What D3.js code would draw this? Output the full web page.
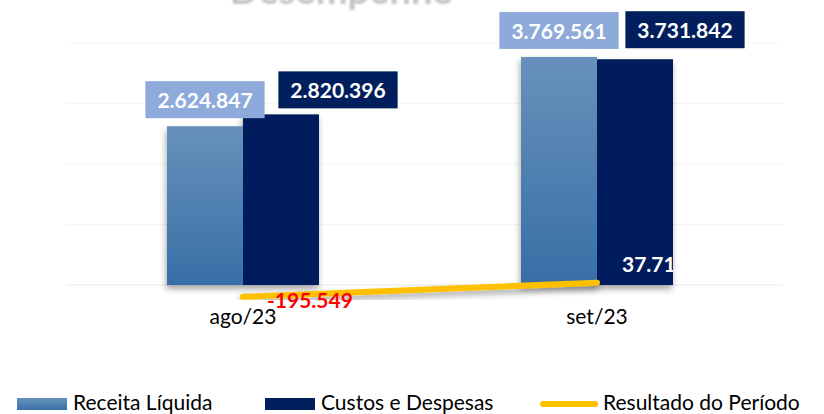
<!DOCTYPE html>
<html>
<head>
<meta charset="utf-8">
<script src="https://cdn.jsdelivr.net/npm/d3@7"></script>
<style>
  body { margin: 0; background: #fff; }
  svg { display: block; font-family: Lato, "Open Sans", sans-serif; }
</style>
</head>
<body>
<div class="chart"></div>
<script>
var width = 824;
var height = 414;

var categories = ['ago/23', 'set/23'];
var receita = [2624847, 3769561];
var custos = [2820396, 3731842];
var resultado = [-195549, 37719];
var gridTicks = [0, 1000000, 2000000, 3000000, 4000000];
var legendNames = ['Receita Líquida', 'Custos e Despesas', 'Resultado do Período'];

var fmt = v => d3.format(',')(v).replace(/,/g, '.').replace('\u2212', '-');

var x = d3.scaleBand().domain(categories).range([66, 774])
  .paddingInner(0.5706).paddingOuter(0.2853);
var sub = d3.scaleBand().domain(['r', 'c']).range([0, x.bandwidth()]);
var y = d3.scaleLinear().domain([0, 4000000]).range([285, 43]);

var svg = d3.select('.chart').append('svg')
  .attr('width', width)
  .attr('height', height);

var defs = svg.append('defs');
var grad = defs.append('linearGradient').attr('id', 'gRec')
  .attr('x1', 0).attr('y1', 0).attr('x2', 0).attr('y2', 1);
grad.append('stop').attr('offset', '0%').attr('stop-color', '#6791bb');
grad.append('stop').attr('offset', '100%').attr('stop-color', '#386fa6');

var legGrad = defs.append('linearGradient').attr('id', 'gLeg')
  .attr('x1', 0).attr('y1', 0).attr('x2', 0).attr('y2', 1);
legGrad.append('stop').attr('offset', '0%').attr('stop-color', '#6791bb');
legGrad.append('stop').attr('offset', '100%').attr('stop-color', '#3a70a7');

defs.append('filter').attr('id', 'shadow')
  .attr('x', '-20%').attr('y', '-20%').attr('width', '140%').attr('height', '140%')
  .append('feDropShadow')
    .attr('dx', -1).attr('dy', 4).attr('stdDeviation', 3)
    .attr('flood-color', '#000').attr('flood-opacity', 0.35);

defs.append('filter').attr('id', 'blur')
  .append('feGaussianBlur').attr('stdDeviation', 1.2);

defs.append('clipPath').attr('id', 'plotClip')
  .append('rect').attr('x', 0).attr('y', 0)
  .attr('width', x(categories[1]) + x.bandwidth()).attr('height', height);

// cut-off title at the top
svg.append('text')
  .attr('x', 342).attr('y', 4)
  .attr('text-anchor', 'middle')
  .attr('filter', 'url(#blur)')
  .style('font-size', '38px')
  .style('font-weight', 'bold')
  .attr('fill', '#c4c4c4')
  .text('Desempenho');

// gridlines
svg.append('g').selectAll('line')
  .data(gridTicks)
  .enter().append('line')
    .attr('x1', 66).attr('x2', 783)
    .attr('y1', d => y(d)).attr('y2', d => y(d))
    .attr('stroke', d => d === 0 ? '#e8e8e8' : '#f6f6f6')
    .attr('stroke-width', 1);

// bars
var groups = svg.append('g').selectAll('g')
  .data(categories)
  .enter().append('g')
    .attr('transform', d => `translate(${x(d)},0)`);

groups.append('g').attr('filter', 'url(#shadow)')
  .each(function(d, i) {
    var g = d3.select(this);
    g.append('rect')
      .attr('x', sub('r')).attr('width', sub.bandwidth())
      .attr('y', y(receita[i])).attr('height', y(0) - y(receita[i]))
      .attr('fill', 'url(#gRec)');
    g.append('rect')
      .attr('x', sub('c')).attr('width', sub.bandwidth())
      .attr('y', y(custos[i])).attr('height', y(0) - y(custos[i]))
      .attr('fill', '#001f5c');
  });

// data label boxes
function labelBox(g, value, cx, bottom, fill) {
  var t = g.append('text')
    .attr('x', cx).attr('y', bottom - 10)
    .attr('text-anchor', 'middle')
    .style('font-size', '21px')
    .style('font-weight', 'bold')
    .attr('fill', '#fff')
    .text(fmt(value));
  var w = t.node().getComputedTextLength() + 24;
  g.insert('rect', 'text')
    .attr('x', cx - w / 2).attr('y', bottom - 37)
    .attr('width', w).attr('height', 37)
    .attr('fill', fill);
}

groups.each(function(d, i) {
  var g = d3.select(this).append('g');
  labelBox(g, receita[i], sub('r') + sub.bandwidth() / 2, y(receita[i]) - 8, '#8eaadb');
  var g2 = d3.select(this).append('g');
  labelBox(g2, custos[i], sub('c') + sub.bandwidth() / 2 + (i === 0 ? 57 : 50), y(custos[i]) - 6 - (i === 1 ? 5 : 0), '#001f5c');
});

// result line
var lineX = d => x(d) + x.bandwidth() / 2;
var line = d3.line()
  .x((d, i) => lineX(categories[i]))
  .y(d => y(d));

svg.append('path')
  .datum(resultado)
  .attr('d', line)
  .attr('fill', 'none')
  .attr('stroke', '#ffc000')
  .attr('stroke-width', 6)
  .attr('stroke-linecap', 'round')
  .attr('filter', 'url(#shadow)');

// result labels
svg.append('g').attr('clip-path', 'url(#plotClip)')
  .selectAll('text')
  .data(resultado)
  .enter().append('text')
    .attr('x', (d, i) => lineX(categories[i]) + (i === 0 ? 24 : 25))
    .attr('y', (d, i) => i === 0 ? y(d) + 11 : y(d) - 11)
    .style('font-size', '21px')
    .style('font-weight', 'bold')
    .attr('fill', d => d < 0 ? '#ff0000' : '#fff')
    .text(d => fmt(d));

// category axis labels
svg.append('g').selectAll('text')
  .data(categories)
  .enter().append('text')
    .attr('x', d => lineX(d))
    .attr('y', 324)
    .attr('text-anchor', 'middle')
    .style('font-size', '21px')
    .attr('fill', '#000')
    .text(d => d);

// legend
var legX = [17, 265, 540];
var legend = svg.append('g').selectAll('g')
  .data(legendNames)
  .enter().append('g')
    .attr('transform', (d, i) => `translate(${legX[i]},0)`);

legend.filter((d, i) => i < 2).append('rect')
  .attr('x', 0).attr('y', 398)
  .attr('width', 50).attr('height', 12)
  .attr('fill', (d, i) => i === 0 ? 'url(#gLeg)' : '#001f5c');

legend.filter((d, i) => i === 2).append('line')
  .attr('x1', 3).attr('x2', 55)
  .attr('y1', 404).attr('y2', 404)
  .attr('stroke', '#ffc000')
  .attr('stroke-width', 6)
  .attr('stroke-linecap', 'round');

legend.append('text')
  .attr('x', (d, i) => i === 2 ? 63 : 56)
  .attr('y', 410)
  .style('font-size', '21px')
  .attr('fill', '#000')
  .text(d => d);
</script>
</body>
</html>
